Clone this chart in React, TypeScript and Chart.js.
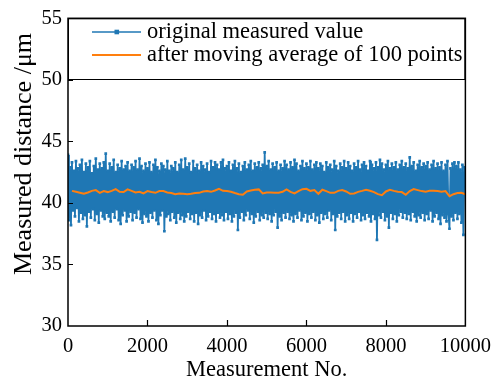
import React, { useEffect, useRef } from "react";
import { Chart, registerables } from "chart.js";

Chart.register(...registerables);

// Raw readings, one every SAMPLE_STEP measurements
const SAMPLE_STEP = 25;
const rawValues = [
  43.9, 38.6, 42.9, 38.2, 43.3, 39.4, 42.6, 38.9, 43.4, 39.6, 42.8, 38.5, 43.1, 39.2, 43.5, 38.7, 42.5, 39.0, 43.2, 38.1,
  42.9, 39.3, 43.4, 38.8, 42.4, 39.5, 43.0, 38.6, 43.6, 39.1, 42.7, 38.4, 43.2, 39.4, 42.8, 38.9, 43.3, 38.7, 44.0, 39.2,
  42.6, 38.9, 43.2, 38.5, 42.9, 39.3, 43.5, 38.8, 42.5, 39.5, 43.1, 38.6, 42.8, 38.3, 43.4, 39.0, 42.7, 39.4, 43.0, 38.5,
  43.3, 38.9, 42.6, 39.3, 43.1, 38.6, 42.9, 39.2, 43.4, 38.8, 42.7, 39.5, 43.6, 38.7, 43.0, 38.4, 42.6, 39.1, 43.2, 38.9,
  42.8, 38.5, 43.3, 39.2, 42.5, 38.8, 43.1, 39.4, 43.5, 38.6, 42.9, 38.3, 42.6, 39.0, 43.2, 39.4, 43.0, 37.7, 42.7, 38.9,
  43.4, 39.1, 42.6, 38.6, 43.0, 39.3, 42.8, 38.8, 43.3, 38.4, 42.5, 39.2, 43.1, 38.7, 43.5, 39.0, 42.7, 38.5, 43.6, 38.9,
  42.9, 39.3, 43.2, 38.7, 42.5, 39.1, 43.4, 38.5, 42.8, 39.2, 43.1, 38.3, 42.6, 39.0, 43.3, 38.8, 43.0, 39.4, 42.7, 38.6,
  43.2, 38.9, 42.5, 39.3, 43.4, 38.7, 42.9, 39.1, 43.3, 38.5, 43.1, 39.2, 42.7, 38.8, 43.3, 39.0, 43.5, 38.6, 42.8, 39.3,
  43.0, 38.7, 43.3, 39.1, 42.6, 38.5, 43.1, 38.9, 43.4, 39.2, 42.8, 37.8, 43.2, 38.8, 42.5, 39.3, 43.0, 38.6, 43.3, 39.0,
  42.7, 39.4, 43.1, 38.7, 43.4, 39.1, 42.6, 38.4, 43.2, 38.9, 42.9, 39.3, 43.3, 38.6, 42.8, 39.0, 43.1, 38.8, 44.1, 39.2,
  43.0, 38.7, 43.4, 39.1, 42.7, 38.5, 43.2, 39.0, 42.9, 39.3, 43.3, 38.0, 42.6, 38.9, 43.1, 38.6, 42.8, 39.2, 43.4, 38.8,
  43.1, 39.3, 42.7, 38.7, 43.3, 39.0, 42.9, 38.5, 43.5, 39.1, 43.2, 38.8, 42.6, 39.4, 43.0, 38.6, 43.4, 38.9, 42.8, 39.2,
  43.2, 38.5, 42.9, 39.1, 43.4, 38.8, 42.7, 39.3, 43.1, 38.6, 43.3, 39.0, 42.8, 38.4, 43.2, 39.2, 43.0, 38.7, 42.5, 39.1,
  43.3, 38.8, 42.9, 39.4, 43.1, 38.6, 42.7, 39.1, 43.4, 37.8, 43.0, 38.9, 42.6, 39.2, 43.2, 38.7, 42.9, 39.3, 43.4, 38.5,
  42.8, 39.0, 43.3, 38.7, 43.0, 39.2, 42.6, 38.5, 43.2, 39.1, 42.9, 38.8, 43.4, 39.3, 42.7, 38.6, 43.1, 39.0, 43.3, 38.7,
  43.0, 39.2, 42.6, 38.9, 43.4, 38.5, 43.1, 39.1, 42.8, 38.7, 43.3, 37.0, 42.9, 39.0, 43.5, 38.8, 43.2, 39.3, 42.7, 38.6,
  43.1, 38.9, 43.4, 38.0, 42.8, 39.2, 43.2, 38.7, 42.9, 39.1, 43.3, 38.5, 42.7, 39.0, 43.1, 39.3, 43.4, 38.8, 42.9, 39.2,
  43.2, 38.7, 42.8, 39.1, 43.7, 38.6, 43.0, 39.3, 43.3, 38.9, 42.6, 38.5, 43.1, 39.0, 43.4, 38.8, 42.9, 39.2, 43.2, 38.6,
  43.0, 39.1, 43.3, 38.7, 42.7, 39.4, 43.1, 38.5, 43.4, 38.9, 42.8, 39.2, 43.2, 38.7, 42.9, 38.3, 43.3, 39.0, 42.6, 38.8,
  43.1, 38.5, 43.4, 39.1, 37.9, 42.8, 38.9, 43.2, 38.6, 43.3, 39.2, 43.0, 38.7, 43.3, 39.1, 42.7, 38.4, 43.1, 37.4, 42.9,
];

// 100-point moving average, one value every AVG_STEP measurements
const AVG_STEP = 100;
const averageValues = [
  40.98, 40.9, 40.82, 40.74, 40.85, 40.98, 41.04, 40.82, 40.96, 40.88,
  40.98, 41.12, 40.9, 40.88, 41.1, 40.98, 40.85, 40.9, 40.77, 40.96,
  40.88, 40.82, 40.96, 40.96, 40.85, 40.8, 40.71, 40.77, 40.74, 40.71,
  40.74, 40.8, 40.82, 40.93, 40.96, 40.9, 41.01, 41.15, 40.98, 40.96,
  40.9, 40.8, 40.71, 40.66, 40.93, 41.01, 41.07, 41.1, 40.77, 40.85,
  40.85, 40.82, 40.82, 40.9, 41.1, 40.9, 40.77, 40.96, 41.12, 41.15,
  40.98, 41.04, 40.74, 41.07, 40.96, 40.82, 40.82, 40.98, 41.04, 40.93,
  40.74, 40.77, 40.9, 40.98, 41.07, 40.99, 40.88, 40.71, 40.63, 40.93,
  41.07, 40.98, 40.9, 40.88, 40.66, 40.96, 41.12, 41.04, 40.96, 40.9,
  40.98, 40.98, 40.96, 40.9, 40.96, 40.55, 40.71, 40.8, 40.82, 40.71,
];

const xTicks = [0, 2000, 4000, 6000, 8000, 10000];
const yTicks = [30, 35, 40, 45, 50, 55];
const seriesLabels = ["original measured value", "after moving average of 100 points"];
const xTitle = "Measurement No.";
const yTitle = "Measured distance /\u03bcm";

const BLUE = "#1f77b4";
const ORANGE = "#ff7f0e";
const SERIF = "'Liberation Serif', 'DejaVu Serif', 'Noto Serif', serif";

// Boxed frame, inward ticks, y-axis title and the boxed legend
const decorPlugin = {
  id: "decor",
  afterDatasetsDraw(chart: any) {
    const { ctx, chartArea: a, scales } = chart;
    ctx.save();

    // frame
    ctx.strokeStyle = "#000";
    ctx.lineWidth = 1.5;
    ctx.strokeRect(a.left, a.top, a.right - a.left, a.bottom - a.top);

    // inward tick marks
    ctx.lineWidth = 1.2;
    ctx.beginPath();
    yTicks.slice(1, -1).forEach((v) => {
      const y = Math.round(scales.y.getPixelForValue(v)) + 0.5;
      ctx.moveTo(a.left, y);
      ctx.lineTo(a.left + 5, y);
    });
    xTicks.slice(1, -1).forEach((v) => {
      const x = Math.round(scales.x.getPixelForValue(v)) + 0.5;
      ctx.moveTo(x, a.bottom);
      ctx.lineTo(x, a.bottom - 6);
    });
    ctx.stroke();

    // y-axis title
    ctx.save();
    ctx.translate(31, 154);
    ctx.rotate(-Math.PI / 2);
    ctx.fillStyle = "#000";
    ctx.font = `26px ${SERIF}`;
    ctx.textAlign = "center";
    ctx.textBaseline = "alphabetic";
    ctx.fillText(yTitle, 0, 0);
    ctx.restore();

    // legend
    const boxBottom = 79;
    ctx.lineWidth = 1;
    ctx.strokeRect(a.left + 0.5, a.top + 0.5, a.right - a.left - 1, boxBottom - a.top);
    const rows = [32, 55];
    const colors = [BLUE, ORANGE];
    ctx.font = `22.5px ${SERIF}`;
    ctx.textAlign = "left";
    ctx.textBaseline = "alphabetic";
    chart.data.datasets.forEach((ds: any) => {
      const idx = seriesLabels.indexOf(ds.label);
      const y = rows[idx];
      ctx.strokeStyle = colors[idx];
      ctx.lineWidth = idx === 0 ? 1.3 : 1.8;
      ctx.beginPath();
      ctx.moveTo(92, y);
      ctx.lineTo(141, y);
      ctx.stroke();
      if (idx === 0) {
        ctx.fillStyle = BLUE;
        ctx.fillRect(114.5, y - 2.3, 4.6, 4.6);
      }
      ctx.fillStyle = "#000";
      ctx.fillText(ds.label, 147, y + 6.3);
    });

    ctx.restore();
  },
};

export default function App() {
  const canvasRef = useRef<HTMLCanvasElement | null>(null);

  useEffect(() => {
    const canvas = canvasRef.current;
    if (!canvas) return;

    const rawPoints = rawValues.map((v, i) => ({ x: i * SAMPLE_STEP, y: v }));
    const avgPoints = averageValues.map((v, i) => ({ x: (i + 1) * AVG_STEP, y: v }));

    const chart = new Chart(canvas, {
      type: "line",
      data: {
        datasets: [
          {
            label: seriesLabels[0],
            data: rawPoints,
            borderColor: BLUE,
            borderWidth: 1.8,
            pointStyle: "rect",
            pointRadius: 1.9,
            pointBorderWidth: 0,
            pointBackgroundColor: BLUE,
            order: 1,
          },
          {
            label: seriesLabels[1],
            data: avgPoints,
            borderColor: ORANGE,
            borderWidth: 2,
            pointRadius: 0,
            order: 0,
          },
        ],
      },
      options: {
        responsive: false,
        animation: false,
        events: [],
        layout: { padding: { top: 18, right: 25, left: 0, bottom: 0 } },
        plugins: { legend: { display: false }, tooltip: { enabled: false } },
        scales: {
          x: {
            type: "linear",
            min: xTicks[0],
            max: xTicks[xTicks.length - 1],
            afterBuildTicks: (s: any) => {
              s.ticks = xTicks.map((v) => ({ value: v }));
            },
            afterFit: (s: any) => {
              s.height = 51;
            },
            grid: { display: false, drawTicks: false },
            border: { display: false },
            ticks: {
              color: "#000",
              font: { family: SERIF, size: 20.5 },
              padding: 8,
              maxRotation: 0,
              autoSkip: false,
              callback: (v: any) => String(v),
            },
            title: {
              display: true,
              text: xTitle,
              color: "#000",
              font: { family: SERIF, size: 22.5, lineHeight: 1 },
              padding: { top: 0, bottom: -4 },
            },
          },
          y: {
            type: "linear",
            min: yTicks[0],
            max: yTicks[yTicks.length - 1],
            afterBuildTicks: (s: any) => {
              s.ticks = yTicks.map((v) => ({ value: v }));
            },
            afterFit: (s: any) => {
              s.width = 68;
            },
            grid: { display: false, drawTicks: false },
            border: { display: false },
            ticks: {
              color: "#000",
              font: { family: SERIF, size: 20.5 },
              padding: 6,
              callback: (v: any) => String(v),
            },
          },
        },
      },
      plugins: [decorPlugin],
    });

    return () => chart.destroy();
  }, []);

  return (
    <div style={{ position: "fixed", left: 0, top: 0, width: 499, height: 377, background: "#fff" }}>
      <canvas ref={canvasRef} width={499} height={377} style={{ display: "block" }} />
    </div>
  );
}
